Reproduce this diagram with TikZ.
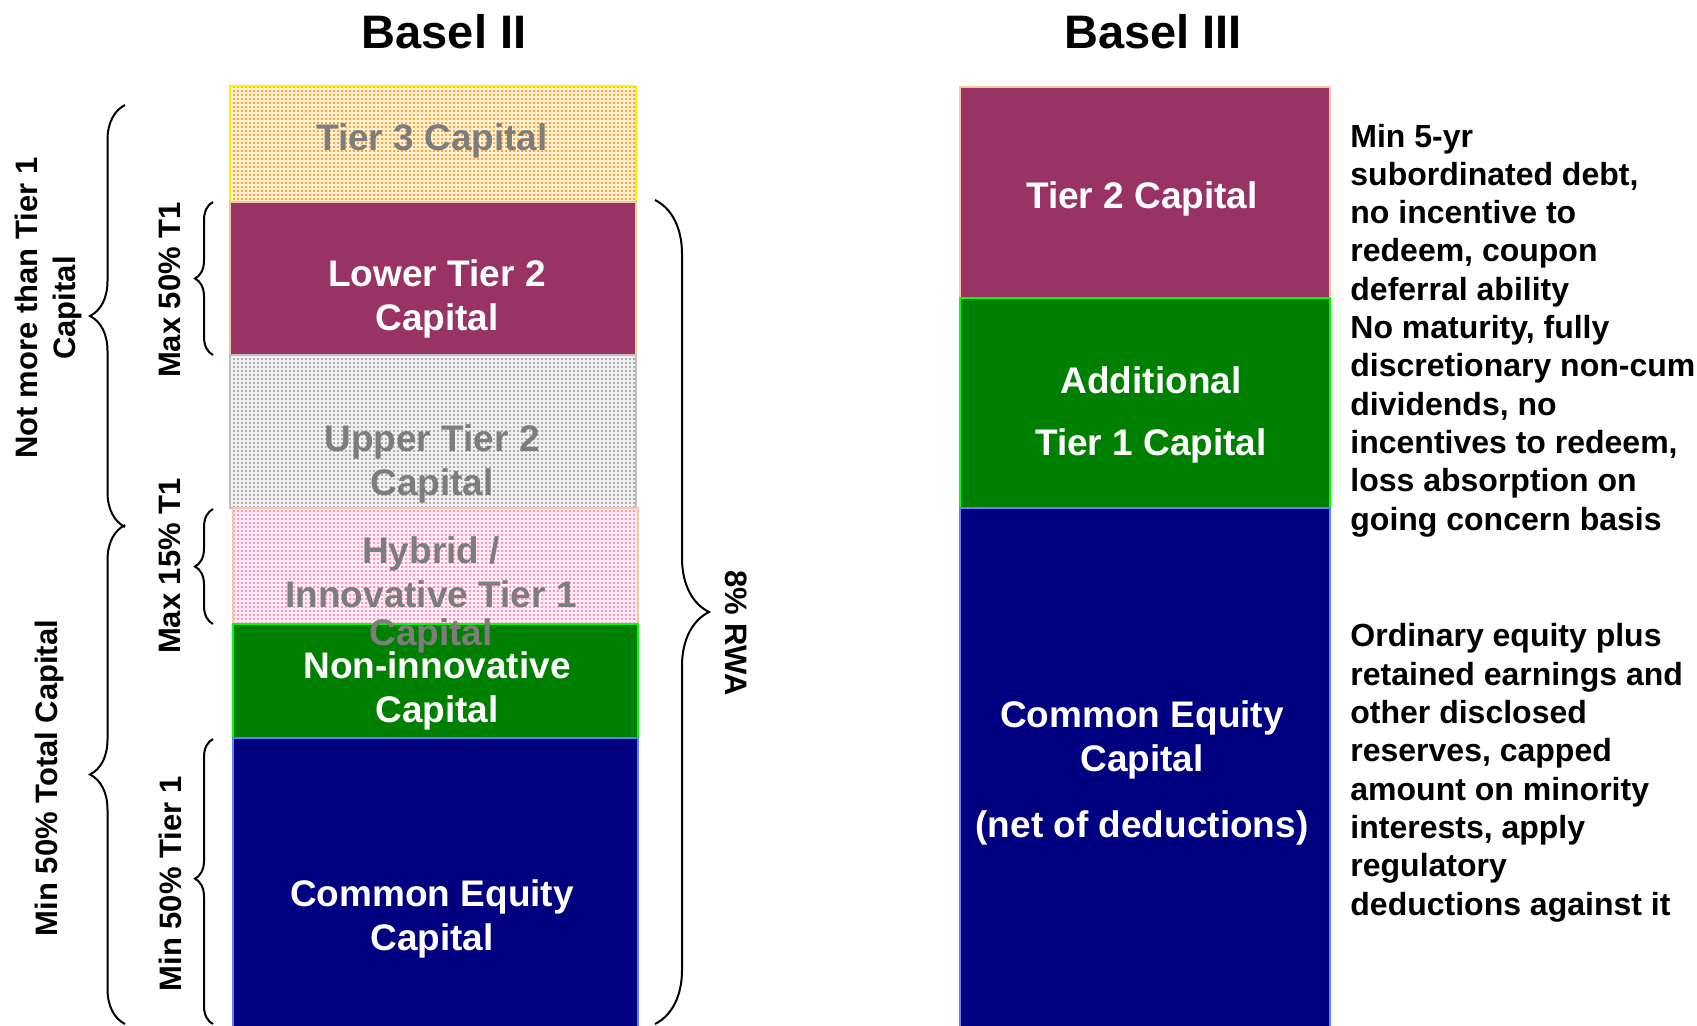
\documentclass[tikz,border=0pt]{standalone}
\usepackage{fontspec}
\setmainfont{Liberation Sans}
\usetikzlibrary{positioning,fit,patterns,decorations.pathreplacing}
\definecolor{plum}{RGB}{153,51,102}
\definecolor{leaf}{RGB}{0,128,0}
\definecolor{navy}{RGB}{0,0,128}
\definecolor{peach}{RGB}{250,200,160}
\definecolor{lime}{RGB}{0,255,0}
\definecolor{skyedge}{RGB}{90,130,255}
\definecolor{sunedge}{RGB}{255,240,0}
\definecolor{greyedge}{RGB}{192,192,192}
\definecolor{dotorange}{RGB}{255,165,60}
\definecolor{dotpink}{RGB}{255,150,200}
\definecolor{dotgrey}{RGB}{175,175,175}
\definecolor{creambg}{RGB}{252,240,210}
\definecolor{pinkbg}{RGB}{255,236,242}
\definecolor{greybg}{RGB}{240,240,240}
\definecolor{greytext}{RGB}{125,125,125}
% small square dots, 2pt grid
\pgfdeclarepatternformonly{tinydots}{\pgfqpoint{-0.1pt}{-0.1pt}}{\pgfqpoint{2.1pt}{2.1pt}}{\pgfqpoint{2pt}{2pt}}
  {\pgfpathrectangle{\pgfqpoint{0.4pt}{0.4pt}}{\pgfqpoint{1.2pt}{1.2pt}}\pgfusepath{fill}}
\tikzset{
  blk/.style={inner sep=0pt,line width=1pt},
  dotbox/.style 2 args={preaction={fill=#1},pattern=tinydots,pattern color=#2},
  lbl/.style={anchor=base,align=center,inner sep=0pt,font=\fontsize{18.5}{22}\selectfont\bfseries},
  note/.style={anchor=base west,align=left,inner sep=0pt,font=\fontsize{16}{19.15}\selectfont\bfseries},
  side/.style={align=center,inner sep=0pt,font=\fontsize{15.5}{19}\selectfont\bfseries},
  brc/.style={decorate,line width=1pt},
  title/.style={anchor=base,font=\fontsize{23.5}{28}\selectfont\bfseries},
}

\begin{document}
\begin{tikzpicture}[x=0.5pt,y=-0.5pt]
\useasboundingbox (0,0) rectangle (1697,1025);

\node[title] (b2) at (444,48) {Basel II};
\node[title] (b3) at (1153,48) {Basel III};

% Basel II stack
\node[blk,fit={(230,86) (636,202)},draw=sunedge,dotbox={creambg}{dotorange}] (t3) {};
\node[blk,fit={(230,202) (636,355)},draw=peach,fill=plum] (lt2) {};
\node[blk,fit={(230,355) (636,508)},draw=greyedge,dotbox={greybg}{dotgrey}] (ut2) {};
\node[blk,fit={(233,508) (638,624)},draw=peach,dotbox={pinkbg}{dotpink}] (hyb) {};
\node[blk,fit={(233,624) (638,738)},draw=lime,fill=leaf] (nic) {};
\node[blk,fit={(233,738) (638,1032)},draw=skyedge,fill=navy] (ce2) {};

% Basel III stack
\node[blk,fit={(960,87) (1330,298)},draw=peach,fill=plum] (b3t2) {};
\node[blk,fit={(960,298) (1330,508)},draw=lime,fill=leaf] (at1) {};
\node[blk,fit={(960,508) (1330,1032)},draw=skyedge,fill=navy] (ce3) {};

% labels sit on the baseline of their last line
\node[lbl,text=greytext] (t3txt) at (432,150) {Tier 3 Capital};
\node[lbl,text=white] (lt2txt) at (437,330) {Lower Tier 2\\Capital};
\node[lbl,text=greytext] (ut2txt) at (432,495) {Upper Tier 2\\Capital};
\node[lbl,text=greytext] (hybtxt) at (431,645) {Hybrid /\\Innovative Tier 1\\[-3pt]Capital};
\node[lbl,text=white] (nictxt) at (437,722) {Non-innovative\\Capital};
\node[lbl,text=white] (ce2txt) at (432,950) {Common Equity\\Capital};

\node[lbl,text=white] (b3t2txt) at (1142,208) {Tier 2 Capital};
\node[lbl,text=white] (at1txt) at (1151,455) {Additional\\[9pt]Tier 1 Capital};
\node[lbl,text=white] (ce3txt) at (1142,837) {Common Equity\\Capital\\[11pt](net of deductions)};

\node[note] (t2note) at (1350,300.2) {Min 5-yr\\subordinated debt,\\no incentive to\\redeem, coupon\\deferral ability};
\node[note] (at1note) at (1350,530) {No maturity, fully\\discretionary non-cum\\dividends, no\\incentives to redeem,\\loss absorption on\\going concern basis};
\node[note] (cenote) at (1350,915) {Ordinary equity plus\\retained earnings and\\other disclosed\\reserves, capped\\amount on minority\\interests, apply\\regulatory\\deductions against it};

% braces
\coordinate (ntBot) at (125,527);  \coordinate (ntTop) at (125,105);
\coordinate (mtBot) at (125,1024); \coordinate (mtTop) at (125,525);
\coordinate (m50Bot) at (213,355); \coordinate (m50Top) at (213,202);
\coordinate (m15Bot) at (213,624); \coordinate (m15Top) at (213,509);
\coordinate (t1Bot) at (213,1024); \coordinate (t1Top) at (213,739);
\coordinate (rwaTop) at (655,200); \coordinate (rwaBot) at (655,1024);

\draw[brc,decoration={brace,amplitude=17.5pt}] (ntBot) -- (ntTop);
\draw[brc,decoration={brace,amplitude=17.5pt}] (mtBot) -- (mtTop);
\draw[brc,decoration={brace,amplitude=9pt}] (m50Bot) -- (m50Top);
\draw[brc,decoration={brace,amplitude=9pt}] (m15Bot) -- (m15Top);
\draw[brc,decoration={brace,amplitude=9pt,aspect=0.51}] (t1Bot) -- (t1Top);
\draw[brc,decoration={brace,amplitude=27pt}] (rwaTop) -- (rwaBot);

\node[side,rotate=90] (ntlbl) at (48,308) {Not more than Tier 1\\Capital};
\node[side,rotate=90] (mtlbl) at (49,778) {Min 50\% Total Capital};
\node[side,rotate=90] (m50lbl) at (170,290) {Max 50\% T1};
\node[side,rotate=90] (m15lbl) at (170,566) {Max 15\% T1};
\node[side,rotate=90] (t1lbl) at (170,884) {Min 50\% Tier 1};
\node[side,rotate=-90] (rwalbl) at (736,633) {8\% RWA};
\end{tikzpicture}
\end{document}
